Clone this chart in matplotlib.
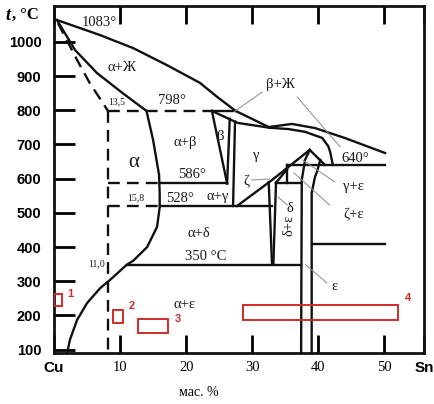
import matplotlib
matplotlib.use('Agg')
import matplotlib.pyplot as plt
from matplotlib.patches import Rectangle

# ---------------------------------------------------------------
# boundary lines: (mass % Sn, temperature in °C)
# ---------------------------------------------------------------
liquidus_x = [0.45, 6.96, 11.96, 17.1, 22.1, 24.7, 27.5, 32.5, 36.0, 39.5, 44.0, 50.1]
liquidus_t = [1064, 1020, 982, 932, 880, 839, 798, 751, 760, 748, 719, 675]

solidus_a_x = [0.45, 3.2, 6.5, 10.4, 14.0]
solidus_a_t = [1064, 976, 909, 850, 798]

solvus_a_x = [14.0, 15.0, 15.9, 16.0, 16.0, 15.6, 14.1, 12.0, 11.0, 8.5, 7.0, 5.0, 3.5, 2.4, 2.0]
solvus_a_t = [798, 713, 611, 552, 517, 459, 400, 360, 348, 304, 280, 236, 187, 128, 90]

# non-equilibrium (dashed) solidus
dash_sol_x = [0.6, 3.5, 5.4, 7.4, 8.17]
dash_sol_t = [1055, 947, 880, 821, 798]

beta_sol_x = [23.9, 27.8, 32.6]
beta_sol_t = [798, 763, 749]

dome_x = [32.6, 35.5, 38.0, 40.6, 41.5, 41.8, 42.2]
dome_t = [749, 745, 737, 719, 695, 678, 640]

beta_l_x = [23.9, 26.2]
beta_l_t = [798, 586]
beta_r_x = [26.6, 26.2]
beta_r_t = [775, 586]
gamma_l_x = [27.4, 27.1]
gamma_l_t = [767, 520]
gamma_r_x = [27.7, 33.0, 38.7]
gamma_r_t = [520, 596, 684]
ge_right_x = [38.7, 40.7, 41.0]
ge_right_t = [684, 646, 640]

eps_l_x = [38.7, 38.0, 37.5, 37.4]
eps_l_t = [684, 655, 596, 90]
eps_r_x = [40.3, 39.8, 39.5, 39.0, 39.0]
eps_r_t = [655, 620, 605, 558, 90]

delta_l_x = [32.5, 33.0]
delta_l_t = [589, 348]
delta_r_x = [33.6, 33.2]
delta_r_t = [588, 348]

zeta_box_x = [35.3, 35.3]
zeta_box_t = [640, 588]
zeta_fan_x = [33.6, 35.3]
zeta_fan_t = [588, 628]

# isotherms: (temperature, x start, x end)
iso_solid = [(798, 23.9, 27.5), (586, 16.0, 26.2), (520, 16.0, 33.0),
             (348, 11.0, 37.4), (640, 35.3, 50.1), (410, 39.0, 50.1), (588, 33.6, 37.4)]
iso_dashed = [(798, 8.17, 23.9), (586, 8.17, 16.0), (520, 8.17, 16.0)]
vert_dashed_x = 8.17
vert_dashed_t = [798, 90]

# leader lines (from, to)
leaders = [((31.5, 853), (27.3, 796)), ((36.8, 839), (43.3, 693)),
           ((29.9, 596), (32.7, 599)), ((37.6, 655), (42.5, 590)),
           ((36.3, 617), (41.7, 523)), ((38.1, 348), (41.3, 295)),
           ((33.9, 546), (35.3, 523))]

# red marked zones: (x0, x1, t0, t1)
zones = [(0.0, 1.2, 228, 262), (8.9, 10.4, 178, 216), (12.7, 17.3, 149, 190), (28.6, 52.1, 187, 231)]
zone_names = ['1', '2', '3', '4']
zone_label_pos = [(2.4, 262), (11.8, 227), (18.8, 190), (53.6, 252)]

xticks = [0, 10, 20, 30, 40, 50, 56]
xtick_labels = ['Cu', '10', '20', '30', '40', '50', 'Sn']
yticks = [100, 200, 300, 400, 500, 600, 700, 800, 900, 1000]

#
# figure
#
fig = plt.figure(figsize=(4.35, 4.04), dpi=100)
ax = fig.add_axes([54 / 435, 1 - 353 / 404, 370 / 435, 347 / 404])
ax.set_xlim(0, 56)
ax.set_ylim(90, 1105)

lc = '#111111'
lw = 1.7
for xs, ts in [(liquidus_x, liquidus_t), (solidus_a_x, solidus_a_t), (solvus_a_x, solvus_a_t),
               (beta_sol_x, beta_sol_t), (dome_x, dome_t), (beta_l_x, beta_l_t),
               (beta_r_x, beta_r_t), (gamma_l_x, gamma_l_t), (gamma_r_x, gamma_r_t),
               (ge_right_x, ge_right_t), (eps_l_x, eps_l_t), (eps_r_x, eps_r_t),
               (delta_l_x, delta_l_t), (delta_r_x, delta_r_t), (zeta_box_x, zeta_box_t),
               (zeta_fan_x, zeta_fan_t)]:
    ax.plot(xs, ts, color=lc, lw=lw, solid_joinstyle='round')

for t, x0, x1 in iso_solid:
    ax.plot([x0, x1], [t, t], color=lc, lw=lw)

dash = (0, (5, 3))
ax.plot(dash_sol_x, dash_sol_t, color=lc, lw=lw, linestyle=dash)
for t, x0, x1 in iso_dashed:
    ax.plot([x0, x1], [t, t], color=lc, lw=lw, linestyle=dash)
ax.plot([vert_dashed_x, vert_dashed_x], vert_dashed_t, color=lc, lw=lw, linestyle=dash)

for (x0, t0), (x1, t1) in leaders:
    ax.plot([x0, x1], [t0, t1], color='#8a8a8a', lw=0.7)

red = '#d22b2b'
for (x0, x1, t0, t1), name, (lx, ly) in zip(zones, zone_names, zone_label_pos):
    ax.add_patch(Rectangle((x0, t0), x1 - x0, t1 - t0, fill=False, edgecolor=red, lw=1.4, zorder=5))
    ax.text(lx, ly, name, color=red, fontsize=8, fontweight='bold', family='Liberation Sans',
            ha='center', va='center')

# region labels
serif = 'Liberation Serif'
def lab(x, y, s, size=10.5, **kw):
    ax.text(x, y, s, fontsize=size, family=serif, ha='center', va='center', color='#1a1a1a', **kw)

lab(6.8, 1058, '1083°')
lab(10.3, 924, 'α+Ж')
lab(9.5, 826, '13,5', size=7)
lab(17.9, 830, '798°')
lab(19.8, 707, 'α+β')
lab(12.1, 646, 'α', size=15)
lab(20.9, 611, '586°')
lab(12.4, 543, '15,8', size=7)
lab(19.1, 541, '528°')
lab(24.8, 548, 'α+γ')
lab(21.9, 441, 'α+δ')
lab(22.9, 371, '350 °C')
lab(6.5, 352, '11,0', size=7)
lab(19.7, 231, 'α+ε')
lab(34.2, 874, 'β+Ж')
lab(25.3, 722, 'β')
lab(30.6, 669, 'γ')
lab(45.6, 660, '640°')
lab(29.2, 590, 'ζ')
lab(45.3, 576, 'γ+ε')
lab(45.3, 494, 'ζ+ε')
lab(35.7, 514, 'δ')
lab(35.5, 463, 'δ+ε', rotation=90)
lab(42.5, 284, 'ε')

# axes styling
for s in ax.spines.values():
    s.set_linewidth(2.0)
    s.set_color(lc)

ax.set_xticks(xticks)
ax.set_xticklabels(xtick_labels)
ax.set_yticks(yticks)
ax.set_yticklabels([str(v) for v in yticks])
ax.tick_params(axis='y', direction='in', length=15, width=2, pad=9, left=True, right=False)
ax.tick_params(axis='x', direction='in', length=13, width=2, pad=6, top=True, bottom=True)
for lbl in ax.get_yticklabels():
    lbl.set_fontfamily('Liberation Sans')
    lbl.set_fontweight('bold')
    lbl.set_fontsize(10.5)
for lbl in ax.get_xticklabels():
    if lbl.get_text() in ('Cu', 'Sn'):
        lbl.set_fontfamily('Liberation Sans')
        lbl.set_fontweight('bold')
        lbl.set_fontsize(11)
    else:
        lbl.set_fontfamily(serif)
        lbl.set_fontsize(10.5)

fig.text(5 / 435, 1 - 15 / 404, 't', fontsize=13, family=serif, style='italic', fontweight='bold',
         va='center', ha='left')
fig.text(12 / 435, 1 - 15 / 404, ', °C', fontsize=12, family=serif, fontweight='bold',
         va='center', ha='left')
fig.text(199 / 435, 1 - 392 / 404, 'мас. %', fontsize=10, family=serif, ha='center', va='center')

fig.savefig('out.png', dpi=100)
